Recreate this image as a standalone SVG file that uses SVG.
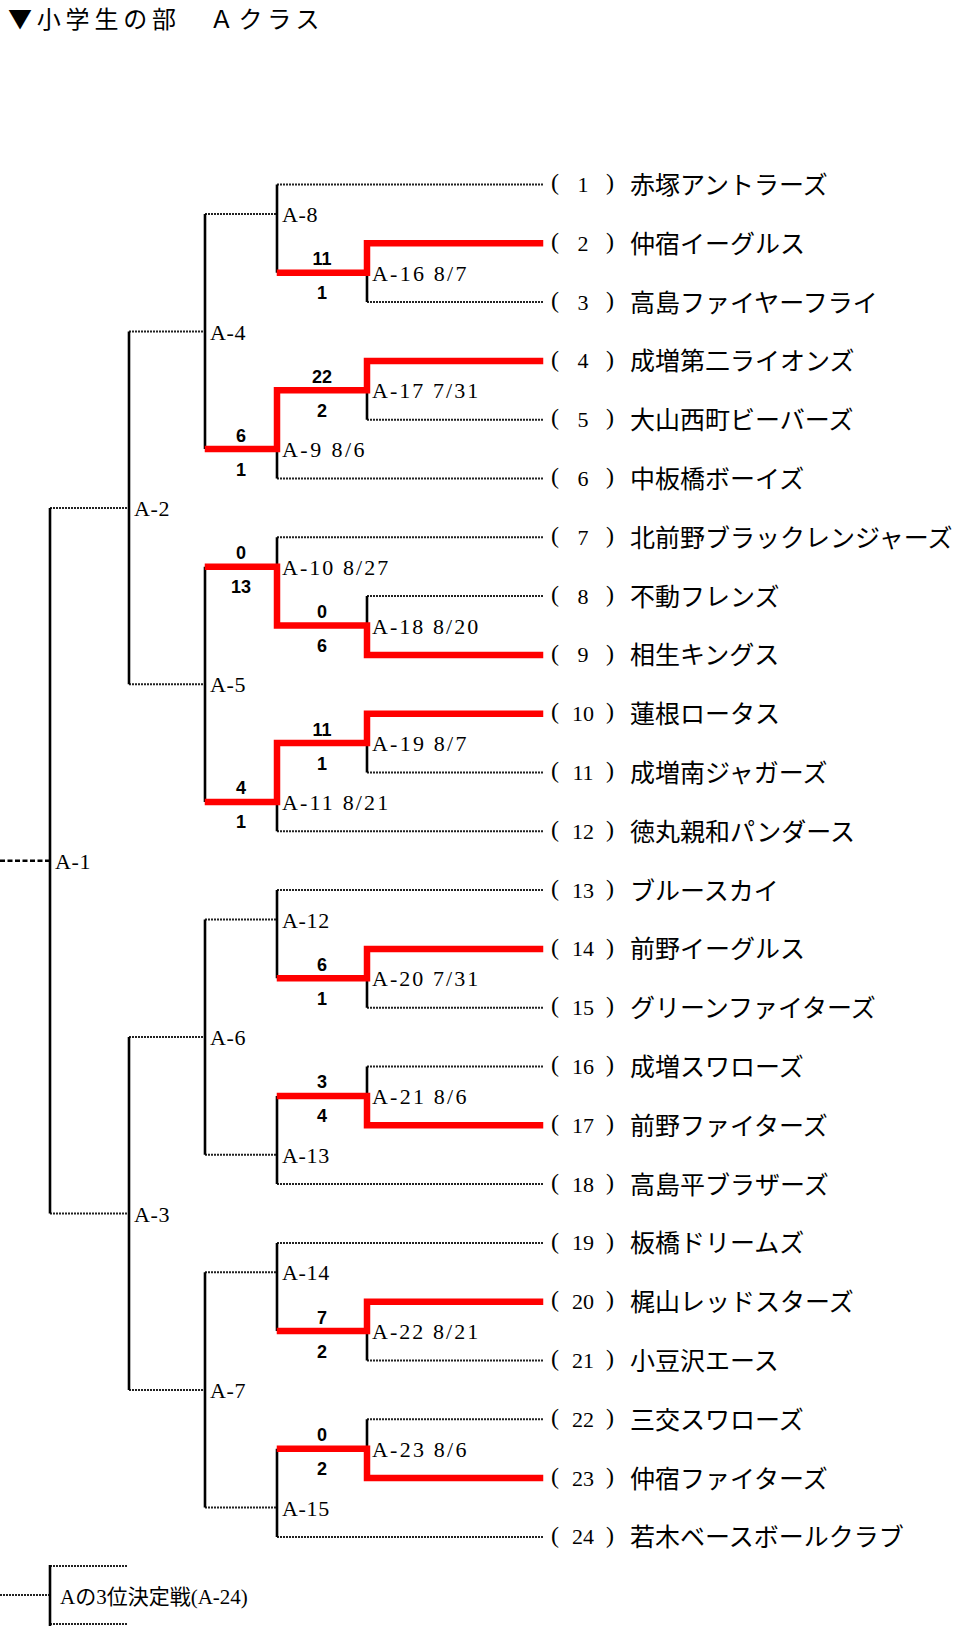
<svg xmlns="http://www.w3.org/2000/svg" width="961" height="1626" viewBox="0 0 961 1626">
<style>
.bg{fill:#fff}
.h{stroke:#222;stroke-width:2;stroke-dasharray:2 1;fill:none}
.v{stroke:#000;stroke-width:2.6;fill:none}
.dash{stroke:#000;stroke-width:2.6;stroke-dasharray:5 2.5;fill:none}
.red{stroke:#ff0000;stroke-width:6.5;fill:none;stroke-linejoin:miter;stroke-linecap:square}
.p{font-family:"Liberation Serif","Noto Sans CJK JP",serif;font-size:24px;fill:#000}
.n{font-family:"Liberation Serif","Noto Sans CJK JP",serif;font-size:22px;fill:#000;text-anchor:middle}
.nm{font-family:"Noto Sans CJK JP",sans-serif;font-size:25px;fill:#000}
.lb{font-family:"Liberation Serif","Noto Sans CJK JP",serif;font-size:22px;fill:#000}
.s{font-family:"Liberation Sans",sans-serif;font-size:18px;font-weight:bold;fill:#000;text-anchor:middle}
.t{font-family:"Noto Sans CJK JP",sans-serif;font-size:24px;letter-spacing:4.8px;fill:#000}
.l3{font-family:"Liberation Serif","Noto Sans CJK JP",serif;font-size:21px;fill:#000}
</style>
<rect class="bg" x="0" y="0" width="961" height="1626"/>
<text id="title" class="t" x="8" y="28">▼小学生の部　Ａクラス</text>

<g id="connectors">
<g id="team-lines">
<path class="h" d="M277 184.5H543M367 243.3H543M367 302.1H543M367 360.9H543M367 419.7H543M277 478.5H543M277 537.3H543M367 596.1H543M367 654.9H543M367 713.7H543M367 772.5H543M277 831.3H543M277 890.1H543M367 948.9H543M367 1007.7H543M367 1066.5H543M367 1125.3H543M277 1184.1H543M277 1242.9H543M367 1301.7H543M367 1360.5H543M367 1419.3H543M367 1478.1H543M277 1536.9H543"/>
</g>
<path class="h" d="M277 272.7H367M277 390.3H367M277 625.5H367M277 743.1H367M277 978.3H367M277 1095.9H367M277 1331.1H367M277 1448.7H367"/>
<path class="h" d="M205 213.9H277M205 449.1H277M205 566.7H277M205 801.9H277M205 919.5H277M205 1154.7H277M205 1272.3H277M205 1507.5H277"/>
<path class="h" d="M129 331.5H205M129 684.3H205M129 1037.1H205M129 1389.9H205"/>
<path class="h" d="M50 507.9H129M50 1213.5H129"/>
<path class="dash" d="M0 860.7H50"/>
<path class="v" d="M367 243.3V302.1M367 360.9V419.7M367 596.1V654.9M367 713.7V772.5M367 948.9V1007.7M367 1066.5V1125.3M367 1301.7V1360.5M367 1419.3V1478.1"/>
<path class="v" d="M277 184.5V272.7M277 390.3V478.5M277 537.3V625.5M277 743.1V831.3M277 890.1V978.3M277 1095.9V1184.1M277 1242.9V1331.1M277 1448.7V1536.9"/>
<path class="v" d="M205 213.9V449.1M205 566.7V801.9M205 919.5V1154.7M205 1272.3V1507.5"/>
<path class="v" d="M129 331.5V684.3M129 1037.1V1389.9"/>
<path class="v" d="M50 507.9V1213.5"/>
<path class="h" d="M50 1566H128M50 1624H128M0 1595H50"/>
<path class="v" d="M50 1565V1626"/>
<g id="winner-paths">
<path class="red" d="M540 243.3H367V272.7H280"/>
<path class="red" d="M540 360.9H367V390.3H277V449.1H208"/>
<path class="red" d="M540 654.9H367V625.5H277V566.7H208"/>
<path class="red" d="M540 713.7H367V743.1H277V801.9H208"/>
<path class="red" d="M540 948.9H367V978.3H280"/>
<path class="red" d="M540 1125.3H367V1095.9H280"/>
<path class="red" d="M540 1301.7H367V1331.1H280"/>
<path class="red" d="M540 1478.1H367V1448.7H280"/>
</g>
</g>

<g id="teams">
<g id="team1"><text class="p" x="551" y="190.1">(</text><text class="n" x="583" y="191.9">1</text><text class="p" x="606" y="190.1">)</text><text class="nm" x="630" y="194">赤塚アントラーズ</text></g>
<g id="team2"><text class="p" x="551" y="248.9">(</text><text class="n" x="583" y="250.7">2</text><text class="p" x="606" y="248.9">)</text><text class="nm" x="630" y="252.8">仲宿イーグルス</text></g>
<g id="team3"><text class="p" x="551" y="307.7">(</text><text class="n" x="583" y="309.5">3</text><text class="p" x="606" y="307.7">)</text><text class="nm" x="630" y="311.6">高島ファイヤーフライ</text></g>
<g id="team4"><text class="p" x="551" y="366.5">(</text><text class="n" x="583" y="368.3">4</text><text class="p" x="606" y="366.5">)</text><text class="nm" x="630" y="370.4">成増第二ライオンズ</text></g>
<g id="team5"><text class="p" x="551" y="425.3">(</text><text class="n" x="583" y="427.1">5</text><text class="p" x="606" y="425.3">)</text><text class="nm" x="630" y="429.2">大山西町ビーバーズ</text></g>
<g id="team6"><text class="p" x="551" y="484.1">(</text><text class="n" x="583" y="485.9">6</text><text class="p" x="606" y="484.1">)</text><text class="nm" x="630" y="488">中板橋ボーイズ</text></g>
<g id="team7"><text class="p" x="551" y="542.9">(</text><text class="n" x="583" y="544.7">7</text><text class="p" x="606" y="542.9">)</text><text class="nm" x="630" y="546.8">北前野ブラックレンジャーズ</text></g>
<g id="team8"><text class="p" x="551" y="601.7">(</text><text class="n" x="583" y="603.5">8</text><text class="p" x="606" y="601.7">)</text><text class="nm" x="630" y="605.6">不動フレンズ</text></g>
<g id="team9"><text class="p" x="551" y="660.5">(</text><text class="n" x="583" y="662.3">9</text><text class="p" x="606" y="660.5">)</text><text class="nm" x="630" y="664.4">相生キングス</text></g>
<g id="team10"><text class="p" x="551" y="719.3">(</text><text class="n" x="583" y="721.1">10</text><text class="p" x="606" y="719.3">)</text><text class="nm" x="630" y="723.2">蓮根ロータス</text></g>
<g id="team11"><text class="p" x="551" y="778.1">(</text><text class="n" x="583" y="779.9">11</text><text class="p" x="606" y="778.1">)</text><text class="nm" x="630" y="782">成増南ジャガーズ</text></g>
<g id="team12"><text class="p" x="551" y="836.9">(</text><text class="n" x="583" y="838.7">12</text><text class="p" x="606" y="836.9">)</text><text class="nm" x="630" y="840.8">徳丸親和パンダース</text></g>
<g id="team13"><text class="p" x="551" y="895.7">(</text><text class="n" x="583" y="897.5">13</text><text class="p" x="606" y="895.7">)</text><text class="nm" x="630" y="899.6">ブルースカイ</text></g>
<g id="team14"><text class="p" x="551" y="954.5">(</text><text class="n" x="583" y="956.3">14</text><text class="p" x="606" y="954.5">)</text><text class="nm" x="630" y="958.4">前野イーグルス</text></g>
<g id="team15"><text class="p" x="551" y="1013.3">(</text><text class="n" x="583" y="1015.1">15</text><text class="p" x="606" y="1013.3">)</text><text class="nm" x="630" y="1017.2">グリーンファイターズ</text></g>
<g id="team16"><text class="p" x="551" y="1072.1">(</text><text class="n" x="583" y="1073.9">16</text><text class="p" x="606" y="1072.1">)</text><text class="nm" x="630" y="1076">成増スワローズ</text></g>
<g id="team17"><text class="p" x="551" y="1130.9">(</text><text class="n" x="583" y="1132.7">17</text><text class="p" x="606" y="1130.9">)</text><text class="nm" x="630" y="1134.8">前野ファイターズ</text></g>
<g id="team18"><text class="p" x="551" y="1189.7">(</text><text class="n" x="583" y="1191.5">18</text><text class="p" x="606" y="1189.7">)</text><text class="nm" x="630" y="1193.6">高島平ブラザーズ</text></g>
<g id="team19"><text class="p" x="551" y="1248.5">(</text><text class="n" x="583" y="1250.3">19</text><text class="p" x="606" y="1248.5">)</text><text class="nm" x="630" y="1252.4">板橋ドリームズ</text></g>
<g id="team20"><text class="p" x="551" y="1307.3">(</text><text class="n" x="583" y="1309.1">20</text><text class="p" x="606" y="1307.3">)</text><text class="nm" x="630" y="1311.2">梶山レッドスターズ</text></g>
<g id="team21"><text class="p" x="551" y="1366.1">(</text><text class="n" x="583" y="1367.9">21</text><text class="p" x="606" y="1366.1">)</text><text class="nm" x="630" y="1370">小豆沢エース</text></g>
<g id="team22"><text class="p" x="551" y="1424.9">(</text><text class="n" x="583" y="1426.7">22</text><text class="p" x="606" y="1424.9">)</text><text class="nm" x="630" y="1428.8">三交スワローズ</text></g>
<g id="team23"><text class="p" x="551" y="1483.7">(</text><text class="n" x="583" y="1485.5">23</text><text class="p" x="606" y="1483.7">)</text><text class="nm" x="630" y="1487.6">仲宿ファイターズ</text></g>
<g id="team24"><text class="p" x="551" y="1542.5">(</text><text class="n" x="583" y="1544.3">24</text><text class="p" x="606" y="1542.5">)</text><text class="nm" x="630" y="1546.4">若木ベースボールクラブ</text></g>
</g>

<g id="matches">
<g id="A-1"><text class="lb" x="55" y="868.7" textLength="35.4" lengthAdjust="spacing">A-1</text></g>
<g id="A-2"><text class="lb" x="134" y="515.9" textLength="35.4" lengthAdjust="spacing">A-2</text></g>
<g id="A-3"><text class="lb" x="134" y="1221.5" textLength="35.4" lengthAdjust="spacing">A-3</text></g>
<g id="A-4"><text class="lb" x="210" y="339.5" textLength="35.4" lengthAdjust="spacing">A-4</text></g>
<g id="A-5"><text class="lb" x="210" y="692.3" textLength="35.4" lengthAdjust="spacing">A-5</text></g>
<g id="A-6"><text class="lb" x="210" y="1045.1" textLength="35.4" lengthAdjust="spacing">A-6</text></g>
<g id="A-7"><text class="lb" x="210" y="1397.9" textLength="35.4" lengthAdjust="spacing">A-7</text></g>
<g id="A-8"><text class="lb" x="282" y="221.9" textLength="35.4" lengthAdjust="spacing">A-8</text></g>
<g id="A-9"><text class="lb" x="282" y="457.1" textLength="82.6" lengthAdjust="spacing">A-9 8/6</text><text class="s" x="241" y="441.6">6</text><text class="s" x="241" y="475.6">1</text></g>
<g id="A-10"><text class="lb" x="282" y="574.7" textLength="106.2" lengthAdjust="spacing">A-10 8/27</text><text class="s" x="241" y="559.2">0</text><text class="s" x="241" y="593.2">13</text></g>
<g id="A-11"><text class="lb" x="282" y="809.9" textLength="106.2" lengthAdjust="spacing">A-11 8/21</text><text class="s" x="241" y="794.4">4</text><text class="s" x="241" y="828.4">1</text></g>
<g id="A-12"><text class="lb" x="282" y="927.5" textLength="47.2" lengthAdjust="spacing">A-12</text></g>
<g id="A-13"><text class="lb" x="282" y="1162.7" textLength="47.2" lengthAdjust="spacing">A-13</text></g>
<g id="A-14"><text class="lb" x="282" y="1280.3" textLength="47.2" lengthAdjust="spacing">A-14</text></g>
<g id="A-15"><text class="lb" x="282" y="1515.5" textLength="47.2" lengthAdjust="spacing">A-15</text></g>
<g id="A-16"><text class="lb" x="372" y="280.7" textLength="94.4" lengthAdjust="spacing">A-16 8/7</text><text class="s" x="322" y="265.2">11</text><text class="s" x="322" y="299.2">1</text></g>
<g id="A-17"><text class="lb" x="372" y="398.3" textLength="106.2" lengthAdjust="spacing">A-17 7/31</text><text class="s" x="322" y="382.8">22</text><text class="s" x="322" y="416.8">2</text></g>
<g id="A-18"><text class="lb" x="372" y="633.5" textLength="106.2" lengthAdjust="spacing">A-18 8/20</text><text class="s" x="322" y="618">0</text><text class="s" x="322" y="652">6</text></g>
<g id="A-19"><text class="lb" x="372" y="751.1" textLength="94.4" lengthAdjust="spacing">A-19 8/7</text><text class="s" x="322" y="735.6">11</text><text class="s" x="322" y="769.6">1</text></g>
<g id="A-20"><text class="lb" x="372" y="986.3" textLength="106.2" lengthAdjust="spacing">A-20 7/31</text><text class="s" x="322" y="970.8">6</text><text class="s" x="322" y="1004.8">1</text></g>
<g id="A-21"><text class="lb" x="372" y="1103.9" textLength="94.4" lengthAdjust="spacing">A-21 8/6</text><text class="s" x="322" y="1088.4">3</text><text class="s" x="322" y="1122.4">4</text></g>
<g id="A-22"><text class="lb" x="372" y="1339.1" textLength="106.2" lengthAdjust="spacing">A-22 8/21</text><text class="s" x="322" y="1323.6">7</text><text class="s" x="322" y="1357.6">2</text></g>
<g id="A-23"><text class="lb" x="372" y="1456.7" textLength="94.4" lengthAdjust="spacing">A-23 8/6</text><text class="s" x="322" y="1441.2">0</text><text class="s" x="322" y="1475.2">2</text></g>
<g id="A-24"><text class="l3" x="60" y="1604">Aの3位決定戦(A-24)</text></g>
</g>
</svg>
